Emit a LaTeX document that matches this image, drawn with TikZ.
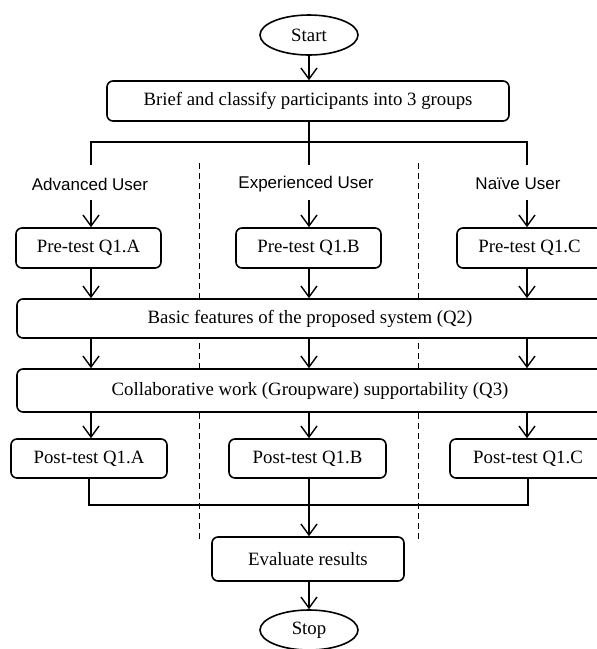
\documentclass[tikz,border=0pt]{standalone}
\usepackage{fontspec}
\setmainfont{Liberation Serif}
\newfontfamily\labelfont{Liberation Sans}
\usetikzlibrary{arrows.meta,shapes.geometric}

\tikzset{
  box/.style={draw, fill=white, line width=1.6pt, rounded corners=6pt, inner sep=0pt,
    font=\fontsize{18.8}{22}\selectfont},
  terminal/.style={draw, fill=white, ellipse, line width=1.6pt, inner sep=0pt,
    minimum width=98pt, minimum height=40pt, font=\fontsize{18.8}{22}\selectfont},
  grouplabel/.style={inner sep=0pt, font=\labelfont\fontsize{17}{20}\selectfont},
  line/.style={line width=1.4pt},
  arr/.style={line width=1.4pt, -{Straight Barb[length=11pt,width=16pt,line width=1.4pt]}},
  divider/.style={line width=1pt, dash pattern=on 6pt off 4pt}
}

\begin{document}
\begin{tikzpicture}[x=1pt, y=-1pt]
  \clip (0,0) rectangle (597,649);

  % column axes
  \coordinate (cA) at (91,0);
  \coordinate (cB) at (309,0);
  \coordinate (cC) at (527,0);

  % group separators (drawn first so the boxes cover them)
  \draw[divider] (199,163) coordinate (d1top) -- (199,540) coordinate (d1bot);
  \draw[divider] (418,163) coordinate (d2top) -- (418,540) coordinate (d2bot);

  % nodes
  \node[terminal] (start) at (309,35) {Start};
  \node[box, minimum width=402pt, minimum height=40pt] (brief) at (308,101)
    {Brief and classify participants into 3 groups};

  \node[grouplabel] (lblA) at (90,184) {Advanced User};
  \node[grouplabel] (lblB) at (306,184) {Experienced User};
  \node[grouplabel] (lblC) at (518,184) {Na\"{\i}ve User};

  \node[box, minimum width=145pt, minimum height=40pt] (preA) at (88.5,248) {Pre-test Q1.A};
  \node[box, minimum width=145pt, minimum height=40pt] (preB) at (308.5,248) {Pre-test Q1.B};
  \node[box, minimum width=145pt, minimum height=40pt] (preC) at (529.5,248) {Pre-test Q1.C};

  \node[box, minimum width=586pt, minimum height=39pt] (basic) at (310,318.5)
    {Basic features of the proposed system (Q2)};
  \node[box, minimum width=586pt, minimum height=43pt] (collab) at (310,390.5)
    {Collaborative work (Groupware) supportability (Q3)};

  \node[box, minimum width=156pt, minimum height=39pt] (postA) at (89,458.5) {Post-test Q1.A};
  \node[box, minimum width=157pt, minimum height=39pt] (postB) at (307.5,458.5) {Post-test Q1.B};
  \node[box, minimum width=156pt, minimum height=39pt] (postC) at (528,458.5) {Post-test Q1.C};

  \node[box, minimum width=192pt, minimum height=44pt] (eval) at (308,559) {Evaluate results};
  \node[terminal] (stop) at (309,630) {Stop};

  % start to briefing
  \draw[arr] (start.south) -- (brief.north -| start.south);

  % split into three groups
  \coordinate (split) at (309,142);
  \draw[line] (brief.south -| split) -- (split);
  \draw[line] (cA |- 0,165) -- (cA |- split) -- (cC |- split) -- (cC |- 0,165);
  \draw[line] (split) -- (cB |- 0,165);

  % group labels to pre-tests
  \draw[arr] (cA |- 0,200) -- (cA |- preA.north);
  \draw[arr] (cB |- 0,200) -- (cB |- preB.north);
  \draw[arr] (cC |- 0,200) -- (cC |- preC.north);

  % pre-tests to basic features
  \draw[arr] (cA |- preA.south) -- (cA |- basic.north);
  \draw[arr] (cB |- preB.south) -- (cB |- basic.north);
  \draw[arr] (cC |- preC.south) -- (cC |- basic.north);

  % basic features to collaborative work
  \draw[arr] (cA |- basic.south) -- (cA |- collab.north);
  \draw[arr] (cB |- basic.south) -- (cB |- collab.north);
  \draw[arr] (cC |- basic.south) -- (cC |- collab.north);

  % collaborative work to post-tests
  \draw[arr] (cA |- collab.south) -- (cA |- postA.north);
  \draw[arr] (cB |- collab.south) -- (cB |- postB.north);
  \draw[arr] (cC |- collab.south) -- (cC |- postC.north);

  % merge post-tests into evaluation
  \draw[line] (89,0 |- postA.south) -- (89,505) -- (528,505) -- (528,0 |- postC.south);
  \draw[arr] (cB |- postB.south) -- (cB |- eval.north);

  % evaluation to stop
  \draw[arr] (cB |- eval.south) -- (cB |- stop.north);
\end{tikzpicture}
\end{document}
